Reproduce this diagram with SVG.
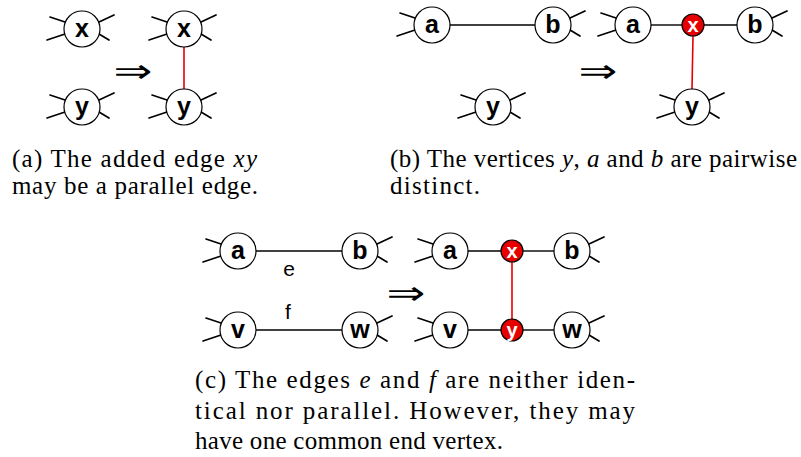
<svg xmlns="http://www.w3.org/2000/svg" xmlns:xlink="http://www.w3.org/1999/xlink" width="801" height="457" viewBox="0 0 801 457">
<style>
.ws line{stroke:#000;stroke-width:1.7;stroke-linecap:round}
.nd{fill:#fff;stroke:#000;stroke-width:1.2}
.rn{fill:#e60000;stroke:#000;stroke-width:1.2}
.lb{font-family:"Liberation Sans",Arial,sans-serif;font-weight:bold;font-size:25px;text-anchor:middle;fill:#000}
.rl{font-family:"Liberation Sans",Arial,sans-serif;font-weight:bold;font-size:20px;text-anchor:middle;fill:#fff}
.el{font-family:"Liberation Sans",Arial,sans-serif;font-size:21px;text-anchor:middle;fill:#000}
.ed{stroke:#000;stroke-width:1.4}
.re{stroke:#e60000;stroke-width:1.6}
.ar{font-family:"DejaVu Sans",sans-serif;font-size:32px;fill:#000}
</style>
<defs>
<g id="wl" class="ws"><line x1="-32" y1="-12" x2="-17" y2="-7"/><line x1="-35" y1="11" x2="-17" y2="5"/></g>
<g id="wr" class="ws"><line x1="17" y1="-7" x2="32" y2="-14"/><line x1="17" y1="5" x2="27" y2="11"/></g>
</defs>

<g id="connectors">
<line class="re" x1="184" y1="47" x2="184" y2="89"/>
<line class="ed" x1="450" y1="25" x2="535" y2="25"/>
<line class="ed" x1="651" y1="25" x2="682" y2="25"/>
<line class="ed" x1="704" y1="25" x2="737" y2="25"/>
<line class="re" x1="693" y1="36" x2="692" y2="89"/>
<line class="ed" x1="256" y1="251" x2="342" y2="251"/>
<line class="ed" x1="256" y1="330" x2="342" y2="330"/>
<line class="ed" x1="468" y1="251" x2="501" y2="251"/>
<line class="ed" x1="523" y1="251" x2="554" y2="251"/>
<line class="ed" x1="468" y1="330" x2="501" y2="330"/>
<line class="ed" x1="523" y1="330" x2="554" y2="330"/>
<line class="re" x1="512" y1="262" x2="512" y2="319"/>
</g>

<!-- panel a -->
<g id="a-x1"><use xlink:href="#wl" x="82" y="29"/><use xlink:href="#wr" x="82" y="29"/><circle class="nd" cx="82" cy="29" r="18"/><text class="lb" x="82" y="37">x</text></g>
<g id="a-y1"><use xlink:href="#wl" x="82" y="107"/><use xlink:href="#wr" x="82" y="107"/><circle class="nd" cx="82" cy="107" r="18"/><text class="lb" x="82" y="115">y</text></g>
<g id="a-x2"><use xlink:href="#wl" x="184" y="29"/><use xlink:href="#wr" x="184" y="29"/><circle class="nd" cx="184" cy="29" r="18"/><text class="lb" x="184" y="37">x</text></g>
<g id="a-y2"><use xlink:href="#wl" x="184" y="107"/><use xlink:href="#wr" x="184" y="107"/><circle class="nd" cx="184" cy="107" r="18"/><text class="lb" x="184" y="115">y</text></g>
<text class="ar" transform="translate(133,82) scale(1.45,1)" text-anchor="middle">⇒</text>

<!-- panel b -->
<g id="b-a1"><use xlink:href="#wl" x="432" y="25"/><circle class="nd" cx="432" cy="25" r="18"/><text class="lb" x="432" y="33">a</text></g>
<g id="b-b1"><use xlink:href="#wr" x="553" y="25"/><circle class="nd" cx="553" cy="25" r="18"/><text class="lb" x="553" y="33">b</text></g>
<g id="b-y1"><use xlink:href="#wl" x="493" y="107"/><use xlink:href="#wr" x="493" y="107"/><circle class="nd" cx="493" cy="107" r="18"/><text class="lb" x="493" y="115">y</text></g>
<text class="ar" transform="translate(598,82) scale(1.45,1)" text-anchor="middle">⇒</text>
<g id="b-a2"><use xlink:href="#wl" x="633" y="25"/><circle class="nd" cx="633" cy="25" r="18"/><text class="lb" x="633" y="33">a</text></g>
<g id="b-x2"><circle class="rn" cx="693" cy="25" r="11"/><text class="rl" x="693" y="32">x</text></g>
<g id="b-b2"><use xlink:href="#wr" x="755" y="25"/><circle class="nd" cx="755" cy="25" r="18"/><text class="lb" x="755" y="33">b</text></g>
<g id="b-y2"><use xlink:href="#wl" x="692" y="107"/><use xlink:href="#wr" x="692" y="107"/><circle class="nd" cx="692" cy="107" r="18"/><text class="lb" x="692" y="115">y</text></g>

<!-- panel c -->
<g id="c-a1"><use xlink:href="#wl" x="238" y="251"/><circle class="nd" cx="238" cy="251" r="18"/><text class="lb" x="238" y="259">a</text></g>
<g id="c-b1"><use xlink:href="#wr" x="360" y="251"/><circle class="nd" cx="360" cy="251" r="18"/><text class="lb" x="360" y="259">b</text></g>
<g id="c-v1"><use xlink:href="#wl" x="238" y="330"/><circle class="nd" cx="238" cy="330" r="18"/><text class="lb" x="238" y="338">v</text></g>
<g id="c-w1"><use xlink:href="#wr" x="360" y="330"/><circle class="nd" cx="360" cy="330" r="18"/><text class="lb" x="360" y="338">w</text></g>
<text class="el" x="289" y="276">e</text>
<text class="el" x="288" y="319">f</text>
<text class="ar" transform="translate(406,304) scale(1.45,1)" text-anchor="middle">⇒</text>
<g id="c-a2"><use xlink:href="#wl" x="450" y="251"/><circle class="nd" cx="450" cy="251" r="18"/><text class="lb" x="450" y="259">a</text></g>
<g id="c-x2"><circle class="rn" cx="512" cy="251" r="11"/><text class="rl" x="512" y="258">x</text></g>
<g id="c-b2"><use xlink:href="#wr" x="572" y="251"/><circle class="nd" cx="572" cy="251" r="18"/><text class="lb" x="572" y="259">b</text></g>
<g id="c-v2"><use xlink:href="#wl" x="450" y="330"/><circle class="nd" cx="450" cy="330" r="18"/><text class="lb" x="450" y="338">v</text></g>
<g id="c-y2"><circle class="rn" cx="512" cy="330" r="11"/><text class="rl" x="512" y="337">y</text></g>
<g id="c-w2"><use xlink:href="#wr" x="572" y="330"/><circle class="nd" cx="572" cy="330" r="18"/><text class="lb" x="572" y="338">w</text></g>

<!-- captions -->
<g id="captions" font-family="'Liberation Serif', 'Times New Roman', serif" font-size="25" fill="#000">
<text x="12" y="167" textLength="245" lengthAdjust="spacing">(a)  The added edge <tspan font-style="italic">xy</tspan></text>
<text x="12" y="194" textLength="246" lengthAdjust="spacing">may be a parallel edge.</text>
<text x="390" y="167" textLength="407" lengthAdjust="spacing">(b)  The vertices <tspan font-style="italic">y</tspan>, <tspan font-style="italic">a</tspan> and <tspan font-style="italic">b</tspan> are pairwise</text>
<text x="390" y="194" textLength="90" lengthAdjust="spacing">distinct.</text>
<text x="195" y="388" textLength="440" lengthAdjust="spacing">(c)  The edges <tspan font-style="italic">e</tspan> and <tspan font-style="italic">f</tspan> are neither iden-</text>
<text x="195" y="419" textLength="440" lengthAdjust="spacing">tical nor parallel.  However, they may</text>
<text x="195" y="449" textLength="308" lengthAdjust="spacing">have one common end vertex.</text>
</g>
</svg>
